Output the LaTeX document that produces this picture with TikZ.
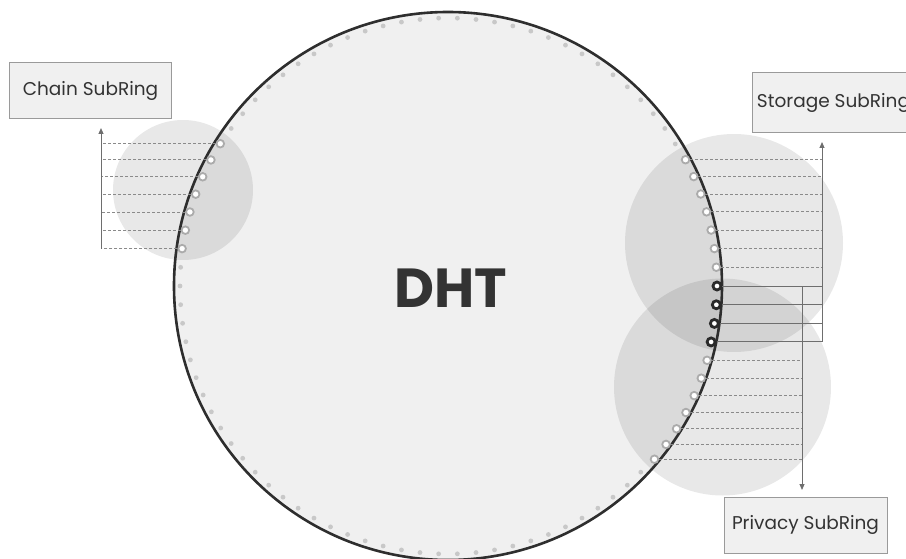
\documentclass[tikz,border=0pt]{standalone}
\usepackage{fontspec}
\setmainfont{Poppins}
\usetikzlibrary{arrows.meta}
\definecolor{mainfill}{HTML}{F0F0F0}
\definecolor{mainedge}{HTML}{2E2E2E}
\definecolor{dotc}{HTML}{C8C8C8}
\definecolor{ringc}{HTML}{ABABAB}
\definecolor{darkring}{HTML}{2A2A2A}
\definecolor{linec}{HTML}{6E6E6E}
\definecolor{dashc}{HTML}{8A8A8A}
\definecolor{boxedge}{HTML}{9A9A9A}
\definecolor{txtc}{HTML}{333333}
\tikzset{
  lring/.style={circle, draw=ringc, line width=1.8pt, fill=white, minimum size=7.6pt, inner sep=0pt},
  dring/.style={circle, draw=darkring, line width=2.8pt, fill=white, minimum size=8pt, inner sep=0pt},
  sub/.style={fill=black, fill opacity=0.09},
  dsh/.style={draw=dashc, line width=0.9pt, dash pattern=on 3pt off 2pt},
  sol/.style={draw=linec, line width=1pt},
  vline/.style={draw=linec, line width=1pt, -{Triangle[length=6pt,width=5pt]}},
  lbox/.style={draw=boxedge, line width=1pt, fill=mainfill, text=txtc, font=\fontsize{18.5}{20}\selectfont, inner sep=0pt},
}
\begin{document}
\begin{tikzpicture}[x=1pt,y=-1pt]
\useasboundingbox (0,0) rectangle (906,559);
\clip (0,0) rectangle (906,559);
% main circle
\fill[mainfill] (448,286) circle (274);
% subring circles
\fill[sub] (183,190) circle (70);
\fill[sub] (734,243) circle (109);
\fill[sub] (722.5,387) circle (108.5);
\draw[mainedge, line width=2.6pt] (448,286) circle (274);
\node[font=\bfseries\fontsize{55}{60}\selectfont, text=txtc] (dht) at (451,288) {DHT};
\begin{scope}[shift={(448,286)}]
  \foreach \k in {8,...,36} \fill[dotc] ({-4*\k}:268) circle (2.4);
  \foreach \k in {44,...,79} \fill[dotc] ({-4*\k}:268) circle (2.4);
  % chain rings
  \foreach \i in {1,...,7} \node[lring] (c\i) at ({-(144+4*\i)}:268.5) {};
  % storage rings
  \foreach \i in {1,...,7} \node[lring] (s\i) at ({-(32-4*\i)}:269) {};
  % shared dark rings
  \foreach \i in {1,...,4} \node[dring] (d\i) at ({-(4-4*\i)}:269) {};
  % privacy rings
  \foreach \i in {1,...,7} \node[lring] (p\i) at ({-(-12-4*\i)}:269.5) {};
\end{scope}
% connector end points
\coordinate (ctip) at (101,128);
\coordinate (stip) at (822,142);
\coordinate (ptip) at (802,490);
% chain connectors
\foreach \i in {1,...,7} \draw[dsh] (c\i.west) -- (c\i.west -| ctip);
\draw[vline] (c7.west -| ctip) -- (ctip);
% storage connectors
\foreach \i in {1,...,7} \draw[dsh] (s\i.east) -- (s\i.east -| stip);
\foreach \i in {1,...,4} \draw[sol] (d\i.east) -- (d\i.east -| stip);
\draw[vline] (d4.east -| stip) -- (stip);
% privacy connectors
\foreach \i in {1,...,7} \draw[dsh] (p\i.east) -- (p\i.east -| ptip);
\draw[vline] (d1.east -| ptip) -- (ptip);
% label boxes
\node[lbox, minimum width=162pt, minimum height=56pt] (chain) at (90.5,91) {Chain SubRing};
\node[lbox, minimum width=163pt, minimum height=60pt] (storage) at (833.5,103) {Storage SubRing};
\node[lbox, minimum width=163pt, minimum height=56pt] (privacy) at (805.5,525) {Privacy SubRing};
\end{tikzpicture}
\end{document}
